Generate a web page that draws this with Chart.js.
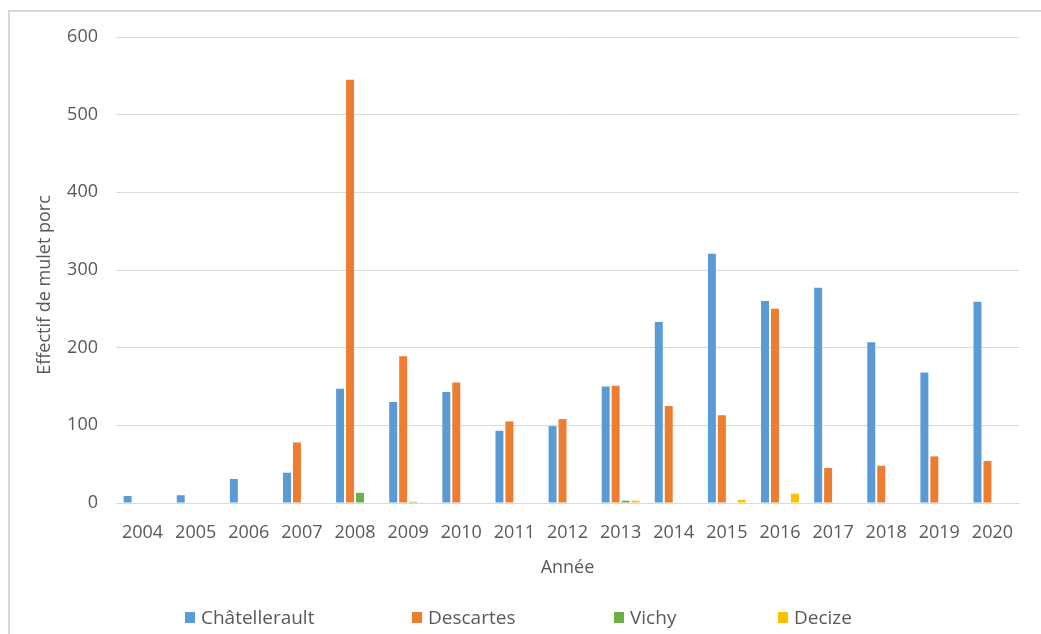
<!DOCTYPE html>
<html>
<head>
<meta charset="utf-8">
<script src="https://cdn.jsdelivr.net/npm/chart.js@4"></script>
<style>
  html, body { margin: 0; padding: 0; background: #fff; }
  #frame { position: absolute; left: 8px; top: 10px; width: 1040px; height: 630px;
           border-top: 2px solid #d9d9d9; border-left: 2px solid #d9d9d9; box-sizing: border-box; }
  #c { position: absolute; left: 0; top: 0; }
  .lg { position: absolute; top: 604px; font-family: 'Open Sans', sans-serif; font-size: 19px;
        color: #595959; line-height: 26px; white-space: nowrap; }
  .lg span.box { display: inline-block; width: 10px; height: 11px; margin-right: 6px; vertical-align: 1px; }
</style>
</head>
<body>
<div id="frame"></div>
<canvas id="c" width="1041" height="634"></canvas>
<div id="legend"></div>
<script>
const years = ['2004','2005','2006','2007','2008','2009','2010','2011','2012','2013','2014','2015','2016','2017','2018','2019','2020'];
const chatellerault = [9, 10, 31, 39, 147, 130, 143, 93, 99, 150, 233, 321, 260, 277, 207, 168, 259];
const descartes = [null, null, null, 78, 545, 189, 155, 105, 108, 151, 125, 113, 250, 45, 48, 60, 54];
const vichy = [null, null, null, null, 13, 1.5, null, null, null, 3, null, null, null, null, null, null, null];
const decize = [null, null, null, null, null, null, null, null, null, 3, null, 4, 12, null, null, null, null];
const seriesNames = ['Châtellerault', 'Descartes', 'Vichy', 'Decize'];
const seriesColors = ['#5B9BD5', '#ED7D31', '#70AD47', '#FFC000'];
const yTicks = [0, 100, 200, 300, 400, 500, 600];
const yTitle = 'Effectif de mulet porc';

const textColor = '#595959';
const font = "'Open Sans', sans-serif";
const seriesData = [chatellerault, descartes, vichy, decize];

const yTitlePlugin = {
  id: 'yTitle',
  afterDraw(chart) {
    const ctx = chart.ctx;
    ctx.save();
    ctx.translate(45, 285);
    ctx.rotate(-Math.PI / 2);
    ctx.font = "18px 'Open Sans', sans-serif";
    ctx.fillStyle = textColor;
    ctx.textAlign = 'center';
    ctx.textBaseline = 'middle';
    ctx.fillText(yTitle, 0, 0);
    ctx.restore();
  }
};

const chart = new Chart(document.getElementById('c'), {
  type: 'bar',
  data: {
    labels: years,
    datasets: seriesNames.map((n, i) => ({
      label: n,
      data: seriesData[i],
      backgroundColor: seriesColors[i],
      borderWidth: 0,
      categoryPercentage: 0.75,
      barPercentage: 0.8
    }))
  },
  plugins: [yTitlePlugin],
  options: {
    responsive: false,
    animation: false,
    layout: { padding: { left: 0, right: 22, top: 37, bottom: 0 } },
    plugins: { legend: { display: false }, tooltip: { enabled: false } },
    scales: {
      x: {
        grid: { display: false, drawTicks: false },
        border: { display: true, color: '#d9d9d9', width: 1 },
        ticks: { color: textColor, font: { family: font, size: 18 }, padding: 19, maxRotation: 0, autoSkip: false },
        title: { display: true, text: 'Année', color: textColor, font: { family: font, size: 18 }, padding: { top: 0, bottom: 55 } },
        afterFit: s => { s.height = 131; }
      },
      y: {
        min: 0, max: 600,
        afterBuildTicks: s => { s.ticks = yTicks.map(v => ({ value: v })); },
        grid: { color: '#d9d9d9', lineWidth: 1, drawTicks: false },
        border: { display: false },
        ticks: { color: textColor, font: { family: font, size: 18 }, padding: 18 },
        title: { display: false },
        afterFit: s => { s.width = 116; }
      }
    }
  }
});

const legendX = [185, 412, 614, 778];
const lg = document.getElementById('legend');
seriesNames.forEach((n, i) => {
  const d = document.createElement('div');
  d.className = 'lg';
  d.style.left = legendX[i] + 'px';
  d.innerHTML = '<span class="box" style="background:' + seriesColors[i] + '"></span>' + n;
  lg.appendChild(d);
});
</script>
</body>
</html>
